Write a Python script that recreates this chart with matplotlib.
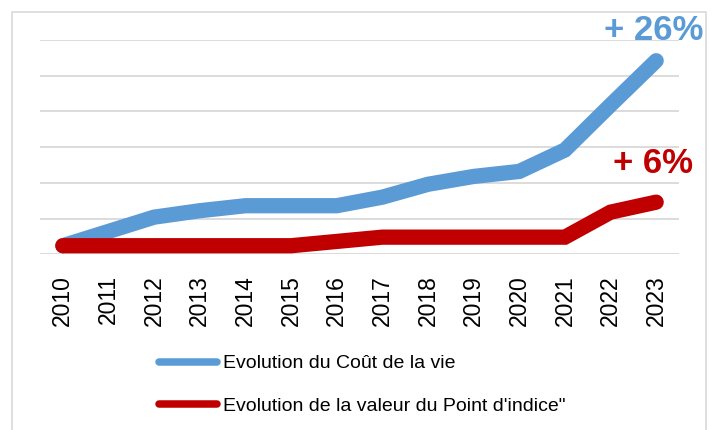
import numpy as np
import matplotlib
matplotlib.use("Agg")
import matplotlib.pyplot as plt
from matplotlib.lines import Line2D

years = [str(y) for y in range(2010, 2024)]
cout_vie = [0, 2.0, 4.0, 4.9, 5.6, 5.6, 5.6, 6.8, 8.6, 9.7, 10.4, 13.4, 19.7, 25.9]
point_indice = [0, 0, 0, 0, 0, 0, 0.6, 1.2, 1.2, 1.2, 1.2, 1.2, 4.7, 6.1]
labels = ["Evolution du Coût de la vie", "Evolution de la valeur du Point d'indice\""]
annot_cout = "+ 26%"
annot_indice = "+ 6%"

BLUE = "#5B9BD5"
RED = "#C00000"
GRID = "#D9D9D9"

plt.rcParams["font.family"] = ["Liberation Sans", "DejaVu Sans"]

W, H = 713, 430
fig = plt.figure(figsize=(W / 100, H / 100), dpi=100)
ax = fig.add_axes([40 / W, 1 - 254.3 / H, (679 - 40) / W, (254.3 - 40) / H])

x = np.arange(len(years))
ax.plot(x, cout_vie, color=BLUE, lw=11, solid_capstyle="round",
        solid_joinstyle="miter", label=labels[0], zorder=3)
ax.plot(x, point_indice, color=RED, lw=11, solid_capstyle="round",
        solid_joinstyle="miter", label=labels[1], zorder=4)

ax.set_xlim(-0.5, len(years) - 0.5)
ax.set_ylim(-1.2, 28.8)
ax.set_yticks(np.arange(-1.2, 29, 5))
ax.yaxis.grid(True, color=GRID, lw=1.3)
ax.set_axisbelow(True)
ax.tick_params(axis="y", left=False, labelleft=False)
ax.set_xticks(x)
ax.set_xticklabels(years, rotation=90, fontsize=16.5, color="black")
ax.tick_params(axis="x", length=0, pad=15)
for s in ax.spines.values():
    s.set_visible(False)

ax.annotate(annot_cout, (x[-1], cout_vie[-1]), xytext=(-1.5, 15),
            textcoords="offset points", ha="center", va="baseline",
            fontsize=25, fontweight="bold", color=BLUE, annotation_clip=False)
ax.annotate(annot_indice, (x[-1], point_indice[-1]), xytext=(-2, 21),
            textcoords="offset points", ha="center", va="baseline",
            fontsize=25, fontweight="bold", color=RED, annotation_clip=False)

leg = ax.legend(loc="center left", bbox_to_anchor=(159 / W, 1 - 385 / H),
                bbox_transform=fig.transFigure, frameon=False, fontsize=14,
                handlelength=2.97, handletextpad=0.3, labelspacing=1.3,
                borderpad=0, borderaxespad=0)
for line in leg.get_lines():
    line.set_linewidth(5.4)
    line.set_solid_capstyle("round")

# chart area border
fx = [11.5 / W, 11.5 / W, 705.5 / W, 705.5 / W]
fy = [-0.05, 1 - 11.5 / H, 1 - 11.5 / H, -0.05]
fig.add_artist(Line2D(fx, fy, transform=fig.transFigure, color=GRID, lw=1.2, zorder=0))

fig.savefig("out.png", dpi=100)
